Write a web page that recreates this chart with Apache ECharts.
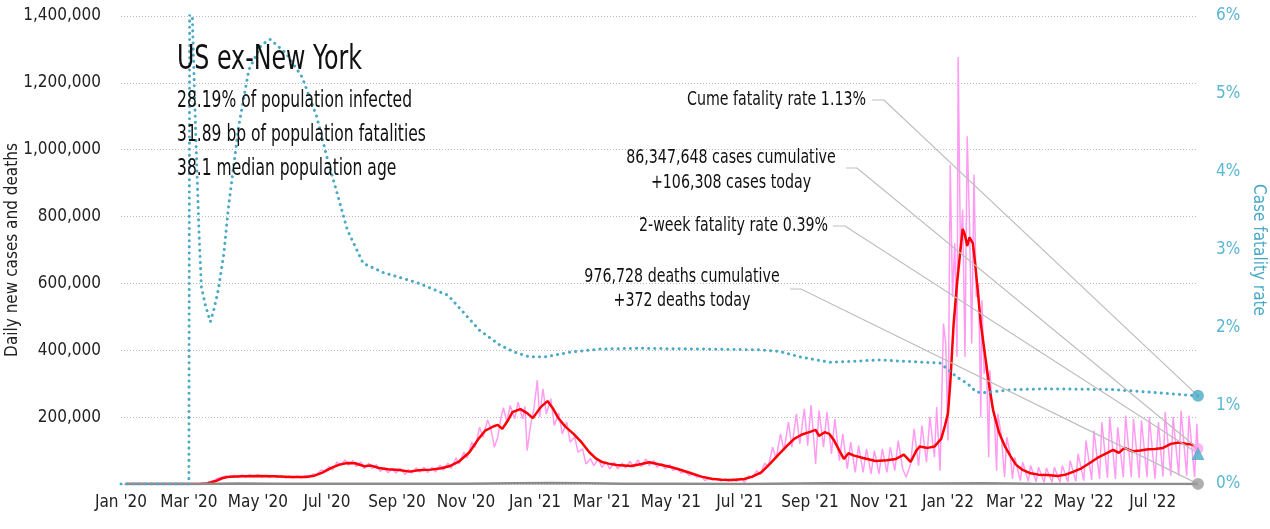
<!DOCTYPE html>
<html>
<head>
<meta charset="utf-8">
<script src="https://cdn.jsdelivr.net/npm/echarts@6/dist/echarts.min.js"></script>
<style>
html, body { margin: 0; padding: 0; background: #fff; }
#chart { width: 1270px; height: 529px; }
</style>
</head>
<body>
<div id="chart"></div>
<script>
const FONT = '"DejaVu Sans Condensed", "Liberation Sans Narrow", Roboto, sans-serif';

// x axis ticks
const tickDates = ['2020-01-01', '2020-03-01', '2020-05-01', '2020-07-01', '2020-09-01', '2020-11-01',
  '2021-01-01', '2021-03-01', '2021-05-01', '2021-07-01', '2021-09-01', '2021-11-01',
  '2022-01-01', '2022-03-01', '2022-05-01', '2022-07-01']
const tickLabels = ["Jan '20", "Mar '20", "May '20", "Jul '20", "Sep '20", "Nov '20",
  "Jan '21", "Mar '21", "May '21", "Jul '21", "Sep '21", "Nov '21",
  "Jan '22", "Mar '22", "May '22", "Jul '22"]

// daily new cases (pink)
const dailyCases = [['2020-01-05',0],['2020-03-01',0],['2020-03-10',300],['2020-03-17',3000],['2020-03-20',7000],['2020-03-24',12000],['2020-03-27',18000],['2020-03-31',20000],['2020-04-03',25000],['2020-04-06',19000],['2020-04-10',26000],['2020-04-13',20000],['2020-04-17',27000],['2020-04-20',21000],['2020-04-24',28000],['2020-04-27',21000],['2020-05-01',28000],['2020-05-04',21000],['2020-05-08',26000],['2020-05-11',19000],['2020-05-15',25000],['2020-05-18',19000],['2020-05-22',24000],['2020-05-26',18000],['2020-05-29',24000],['2020-06-01',18000],['2020-06-05',24000],['2020-06-08',18000],['2020-06-12',25000],['2020-06-15',20000],['2020-06-19',30000],['2020-06-22',28000],['2020-06-26',42000],['2020-06-29',38000],['2020-07-03',52000],['2020-07-06',42000],['2020-07-10',66000],['2020-07-13',55000],['2020-07-17',72000],['2020-07-20',56000],['2020-07-24',70000],['2020-07-27',52000],['2020-07-31',66000],['2020-08-03',46000],['2020-08-07',62000],['2020-08-10',46000],['2020-08-14',58000],['2020-08-17',38000],['2020-08-21',48000],['2020-08-24',34000],['2020-08-28',46000],['2020-08-31',33000],['2020-09-04',46000],['2020-09-08',28000],['2020-09-11',44000],['2020-09-14',32000],['2020-09-18',48000],['2020-09-21',36000],['2020-09-25',50000],['2020-09-28',34000],['2020-10-02',50000],['2020-10-05',36000],['2020-10-09',56000],['2020-10-12',42000],['2020-10-16',62000],['2020-10-19',47000],['2020-10-23',78000],['2020-10-26',60000],['2020-10-30',95000],['2020-11-02',78000],['2020-11-06',125000],['2020-11-09',110000],['2020-11-13',170000],['2020-11-16',140000],['2020-11-20',192000],['2020-11-23',165000],['2020-11-26',110000],['2020-11-29',140000],['2020-12-02',200000],['2020-12-04',228000],['2020-12-07',185000],['2020-12-10',235000],['2020-12-14',195000],['2020-12-17',245000],['2020-12-21',195000],['2020-12-23',232000],['2020-12-25',100000],['2020-12-28',175000],['2020-12-31',225000],['2021-01-03',311000],['2021-01-05',200000],['2021-01-08',285000],['2021-01-11',210000],['2021-01-15',255000],['2021-01-18',175000],['2021-01-22',212000],['2021-01-25',150000],['2021-01-29',185000],['2021-02-01',125000],['2021-02-05',140000],['2021-02-08',95000],['2021-02-12',105000],['2021-02-15',60000],['2021-02-19',76000],['2021-02-22',55000],['2021-02-26',75000],['2021-03-01',50000],['2021-03-05',66000],['2021-03-08',45000],['2021-03-12',65000],['2021-03-15',45000],['2021-03-19',62000],['2021-03-22',48000],['2021-03-26',68000],['2021-03-29',50000],['2021-04-02',72000],['2021-04-05',52000],['2021-04-09',75000],['2021-04-12',55000],['2021-04-16',70000],['2021-04-19',50000],['2021-04-23',62000],['2021-04-26',45000],['2021-04-30',58000],['2021-05-03',40000],['2021-05-07',48000],['2021-05-10',33000],['2021-05-14',38000],['2021-05-17',25000],['2021-05-21',30000],['2021-05-24',20000],['2021-05-28',24000],['2021-05-31',10000],['2021-06-04',18000],['2021-06-07',12000],['2021-06-11',16000],['2021-06-14',9000],['2021-06-18',15000],['2021-06-21',8000],['2021-06-25',15000],['2021-06-28',8000],['2021-07-02',18000],['2021-07-05',5000],['2021-07-09',25000],['2021-07-12',18000],['2021-07-16',40000],['2021-07-19',28000],['2021-07-23',62000],['2021-07-26',50000],['2021-07-30',110000],['2021-08-02',75000],['2021-08-06',150000],['2021-08-09',100000],['2021-08-13',185000],['2021-08-16',110000],['2021-08-20',210000],['2021-08-23',120000],['2021-08-27',225000],['2021-08-30',115000],['2021-09-02',236000],['2021-09-06',60000],['2021-09-09',220000],['2021-09-13',110000],['2021-09-16',215000],['2021-09-20',90000],['2021-09-23',195000],['2021-09-27',70000],['2021-09-30',150000],['2021-10-04',45000],['2021-10-07',125000],['2021-10-11',35000],['2021-10-14',115000],['2021-10-18',35000],['2021-10-21',105000],['2021-10-25',30000],['2021-10-28',100000],['2021-11-01',30000],['2021-11-04',105000],['2021-11-08',35000],['2021-11-11',110000],['2021-11-15',40000],['2021-11-18',130000],['2021-11-22',45000],['2021-11-25',20000],['2021-11-29',60000],['2021-12-02',165000],['2021-12-06',55000],['2021-12-09',175000],['2021-12-13',65000],['2021-12-16',200000],['2021-12-20',80000],['2021-12-22',230000],['2021-12-25',40000],['2021-12-28',480000],['2021-12-30',420000],['2022-01-01',130000],['2022-01-03',955000],['2022-01-05',560000],['2022-01-07',720000],['2022-01-09',380000],['2022-01-10',1277000],['2022-01-12',700000],['2022-01-14',820000],['2022-01-16',380000],['2022-01-18',1040000],['2022-01-20',780000],['2022-01-22',420000],['2022-01-24',925000],['2022-01-26',560000],['2022-01-28',600000],['2022-01-30',200000],['2022-01-31',550000],['2022-02-02',330000],['2022-02-04',360000],['2022-02-06',80000],['2022-02-07',340000],['2022-02-09',230000],['2022-02-11',200000],['2022-02-13',40000],['2022-02-14',210000],['2022-02-17',150000],['2022-02-20',20000],['2022-02-22',140000],['2022-02-25',90000],['2022-02-27',15000],['2022-03-01',80000],['2022-03-06',10000],['2022-03-08',65000],['2022-03-13',8000],['2022-03-15',55000],['2022-03-20',6000],['2022-03-22',50000],['2022-03-27',5000],['2022-03-29',48000],['2022-04-03',5000],['2022-04-05',50000],['2022-04-10',5000],['2022-04-12',55000],['2022-04-17',6000],['2022-04-19',70000],['2022-04-24',8000],['2022-04-26',90000],['2022-05-01',10000],['2022-05-03',130000],['2022-05-08',12000],['2022-05-10',160000],['2022-05-15',15000],['2022-05-17',185000],['2022-05-22',18000],['2022-05-24',200000],['2022-05-29',15000],['2022-05-31',170000],['2022-06-05',20000],['2022-06-07',205000],['2022-06-12',20000],['2022-06-14',195000],['2022-06-19',18000],['2022-06-21',190000],['2022-06-26',20000],['2022-06-28',200000],['2022-07-03',15000],['2022-07-06',185000],['2022-07-10',22000],['2022-07-12',215000],['2022-07-17',25000],['2022-07-19',200000],['2022-07-24',25000],['2022-07-26',220000],['2022-07-31',25000],['2022-08-02',205000],['2022-08-07',20000],['2022-08-09',180000],['2022-08-10',106308]]

// 7-day average of new cases (red)
const avgCases = [['2020-01-05',0],['2020-03-10',0],['2020-03-17',1500],['2020-03-24',8000],['2020-03-31',18000],['2020-04-06',22000],['2020-04-18',23000],['2020-05-01',24000],['2020-05-15',23000],['2020-05-30',21000],['2020-06-12',21000],['2020-06-20',25000],['2020-06-27',34000],['2020-07-05',48000],['2020-07-12',58000],['2020-07-19',63000],['2020-07-26',62000],['2020-08-03',53000],['2020-08-09',55000],['2020-08-16',48000],['2020-08-24',44000],['2020-09-03',42000],['2020-09-12',37000],['2020-09-20',41000],['2020-10-01',43000],['2020-10-10',47000],['2020-10-18',54000],['2020-10-26',68000],['2020-11-04',95000],['2020-11-12',135000],['2020-11-18',160000],['2020-11-25',172000],['2020-11-29',177000],['2020-12-03',165000],['2020-12-08',190000],['2020-12-12',215000],['2020-12-19',224000],['2020-12-25',212000],['2020-12-30',197000],['2021-01-06',230000],['2021-01-12',248000],['2021-01-17',225000],['2021-01-22',195000],['2021-01-28',171000],['2021-02-04',150000],['2021-02-11',125000],['2021-02-18',95000],['2021-02-24',76000],['2021-03-01',66000],['2021-03-07',61000],['2021-03-14',57000],['2021-03-27',54000],['2021-04-05',60000],['2021-04-12',65000],['2021-04-20',59000],['2021-05-01',51000],['2021-05-10',42000],['2021-05-19',32000],['2021-05-28',22000],['2021-06-06',16000],['2021-06-15',13000],['2021-06-24',12000],['2021-07-05',15000],['2021-07-12',22000],['2021-07-20',35000],['2021-07-28',62000],['2021-08-04',87000],['2021-08-11',112000],['2021-08-18',135000],['2021-08-25',148000],['2021-09-01',156000],['2021-09-06',162000],['2021-09-09',144000],['2021-09-14',155000],['2021-09-18',150000],['2021-09-22',132000],['2021-09-27',100000],['2021-10-01',75000],['2021-10-05',92000],['2021-10-10',85000],['2021-10-18',78000],['2021-10-29',69000],['2021-11-08',71000],['2021-11-16',75000],['2021-11-23',88000],['2021-11-29',66000],['2021-12-04',100000],['2021-12-07',112000],['2021-12-14',108000],['2021-12-20',112000],['2021-12-26',135000],['2021-12-29',170000],['2022-01-01',212000],['2022-01-03',300000],['2022-01-06',480000],['2022-01-09',600000],['2022-01-12',700000],['2022-01-14',763000],['2022-01-16',745000],['2022-01-18',712000],['2022-01-20',738000],['2022-01-23',720000],['2022-01-25',660000],['2022-01-27',590000],['2022-01-30',480000],['2022-02-03',380000],['2022-02-07',280000],['2022-02-10',220000],['2022-02-15',155000],['2022-02-20',115000],['2022-02-25',85000],['2022-03-02',58000],['2022-03-08',42000],['2022-03-15',32000],['2022-03-22',28000],['2022-03-30',27000],['2022-04-08',24000],['2022-04-15',28000],['2022-04-22',37000],['2022-04-29',47000],['2022-05-06',62000],['2022-05-13',78000],['2022-05-20',90000],['2022-05-27',102000],['2022-06-01',93000],['2022-06-06',108000],['2022-06-13',98000],['2022-06-20',100000],['2022-06-27',104000],['2022-07-03',105000],['2022-07-10',108000],['2022-07-17',120000],['2022-07-24',124000],['2022-07-31',120000],['2022-08-05',118000],['2022-08-10',105000]]

// daily deaths (grey)
const dailyDeaths = [['2020-01-05',0],['2020-03-10',0],['2020-03-25',600],['2020-04-15',1500],['2020-05-15',1100],['2020-06-20',500],['2020-08-01',1100],['2020-09-15',700],['2020-11-01',700],['2020-12-15',2400],['2021-01-15',3200],['2021-02-15',2000],['2021-03-20',900],['2021-05-01',600],['2021-07-05',200],['2021-09-15',1900],['2021-11-01',1200],['2021-12-20',1200],['2022-02-01',2500],['2022-03-15',1000],['2022-04-20',350],['2022-06-15',300],['2022-08-10',372]]

// case fatality rate, % (teal, right axis)
const fatalityRate = [['2020-01-01',0],['2020-03-01',0],['2020-03-02',9],['2020-03-04',6.0],['2020-03-07',4.5],['2020-03-10',3.2],['2020-03-12',2.53],['2020-03-16',2.27],['2020-03-20',2.08],['2020-03-23',2.23],['2020-03-27',2.49],['2020-04-01',2.96],['2020-04-05',3.55],['2020-04-14',4.58],['2020-04-23',5.31],['2020-05-04',5.63],['2020-05-12',5.70],['2020-05-26',5.52],['2020-06-09',5.22],['2020-06-22',4.71],['2020-07-01',4.19],['2020-07-10',3.73],['2020-07-19',3.26],['2020-08-02',2.83],['2020-08-20',2.71],['2020-09-19',2.58],['2020-10-16',2.42],['2020-11-13',1.97],['2020-12-01',1.78],['2020-12-14',1.69],['2020-12-27',1.63],['2021-01-10',1.63],['2021-02-01',1.69],['2021-02-27',1.73],['2021-04-04',1.74],['2021-05-27',1.73],['2021-07-19',1.72],['2021-08-05',1.70],['2021-08-23',1.63],['2021-09-19',1.56],['2021-11-02',1.59],['2021-12-25',1.55],['2022-01-09',1.37],['2022-01-18',1.29],['2022-01-26',1.18],['2022-02-01',1.17],['2022-02-27',1.21],['2022-03-29',1.22],['2022-05-27',1.21],['2022-06-26',1.18],['2022-08-10',1.13]]

// latest values
const lastDate = '2022-08-10'
const casesToday = 106308
const deathsToday = 372
const casesCumulative = '86,347,648'
const deathsCumulative = '976,728'
const cumeRate = 1.13
const twoWeekRate = 0.39

const titleText = 'US ex-New York'
const statLines = ['28.19% of population infected', '31.89 bp of population fatalities', '38.1 median population age']

const TEAL = '#4aaac6'
const ts = s => { const p = s.split('-').map(Number); return new Date(p[0], p[1] - 1, p[2]).getTime() }
const toPts = arr => arr.map(d => [ts(d[0]), d[1]])

const labelMap = {}
tickDates.forEach((d, i) => { labelMap[ts(d)] = tickLabels[i] })

// the reference face is a narrow one, so squeeze the free texts to its width
const measureCtx = document.createElement('canvas').getContext('2d')
const squeeze = (text, size, width) => {
  measureCtx.font = size + 'px ' + FONT
  return width / measureCtx.measureText(text).width
}

const chart = echarts.init(document.getElementById('chart'))

chart.setOption({
  animation: false,
  grid: { left: 121, right: 72, top: 16, bottom: 45, outerBoundsMode: 'none' },
  xAxis: {
    // dates as timestamps on a plain value axis, labelled at the month starts
    type: 'value',
    min: ts('2020-01-01'),
    max: ts(lastDate),
    axisLine: { show: false },
    axisTick: { show: false },
    splitLine: { show: false },
    axisLabel: {
      customValues: tickDates.map(ts),
      formatter: v => labelMap[v] || '',
      fontFamily: FONT, fontSize: 17, color: '#222', margin: 10
    }
  },
  yAxis: [
    {
      type: 'value', min: 0, max: 1400000, interval: 200000,
      name: 'Daily new cases and deaths', nameLocation: 'middle', nameRotate: 90, nameGap: 100,
      nameMoveOverlap: false,
      nameTextStyle: { fontFamily: FONT, fontSize: 17, color: '#222' },
      axisLine: { show: false }, axisTick: { show: false },
      axisLabel: {
        showMinLabel: false, margin: 20,
        formatter: v => v.toLocaleString('en-US'),
        fontFamily: FONT, fontSize: 17, color: '#222'
      },
      splitLine: { lineStyle: { color: '#bbb', width: 1, type: [1, 2] } }
    },
    {
      type: 'value', position: 'right', min: 0, max: 6, interval: 1,
      name: 'Case fatality rate', nameLocation: 'middle', nameRotate: -90, nameGap: 52,
      nameMoveOverlap: false,
      nameTextStyle: { fontFamily: FONT, fontSize: 17, color: TEAL },
      axisLine: { show: false }, axisTick: { show: false },
      axisLabel: { formatter: '{value}%', margin: 18, fontFamily: FONT, fontSize: 17, color: '#5ab6d2' },
      splitLine: { show: false }
    }
  ],
  series: [
    {
      name: 'Daily cases', type: 'line', data: toPts(dailyCases), showSymbol: false, z: 2,
      lineStyle: { color: '#ff9cf2', width: 1.5 }
    },
    {
      name: '7-day average', type: 'line', data: toPts(avgCases), showSymbol: false, z: 3,
      lineStyle: { color: '#ff0000', width: 2.5 }
    },
    {
      name: 'Daily deaths', type: 'line', data: toPts(dailyDeaths), showSymbol: false, z: 3,
      lineStyle: { color: '#8c8c8c', width: 2.5 }
    },
    {
      name: 'Case fatality rate', type: 'line', yAxisIndex: 1, data: toPts(fatalityRate), showSymbol: false, z: 4,
      lineStyle: { color: TEAL, width: 3, type: [0.1, 6], cap: 'round' }
    },
    {
      type: 'scatter', z: 6, symbol: 'circle', symbolSize: 11,
      itemStyle: { color: '#ffa6f4' }, data: [[ts(lastDate), casesToday]]
    },
    {
      type: 'scatter', z: 6, symbol: 'circle', symbolSize: 12,
      itemStyle: { color: '#9a9a9a' }, data: [[ts(lastDate), deathsToday]]
    },
    {
      type: 'scatter', yAxisIndex: 1, z: 7, symbol: 'circle', symbolSize: 12,
      itemStyle: { color: TEAL }, data: [[ts(lastDate), cumeRate]]
    },
    {
      type: 'scatter', yAxisIndex: 1, z: 7, symbol: 'triangle', symbolSize: 13,
      itemStyle: { color: TEAL }, data: [[ts(lastDate), twoWeekRate]]
    }
  ]
})

// leader lines: from the note to the latest point of each series
const px = (axis, v) => chart.convertToPixel({ xAxisIndex: 0, yAxisIndex: axis }, [ts(lastDate), v])
const leader = (start, elbow, end) => ({
  type: 'polyline', z: 5, silent: true,
  shape: { points: [start, elbow, end] },
  style: { stroke: '#bdbdbd', lineWidth: 1.2, fill: null }
})
const txt = (text, x, y, size, sx, align) => ({
  type: 'text', x: x, y: y, z: 8, silent: true, scaleX: sx,
  style: { text: text, font: size + 'px ' + FONT, fill: '#111', align: align || 'left', verticalAlign: 'middle' }
})

const titleScale = squeeze(titleText, 34, 185)
const statScale = squeeze(statLines[0], 23, 235)
const noteText = 'Cume fatality rate ' + cumeRate + '%'
const noteScale = squeeze(noteText, 20, 179)

chart.setOption({
  graphic: [
    leader([872, 100], [884, 100], px(1, cumeRate)),
    leader([846, 168], [857, 168], px(0, casesToday)),
    leader([833, 226], [845, 226], px(1, twoWeekRate)),
    leader([790, 289], [801, 289], px(0, deathsToday)),
    txt(titleText, 177, 60, 34, titleScale),
    txt(statLines[0], 177, 101, 23, statScale),
    txt(statLines[1], 177, 135, 23, statScale),
    txt(statLines[2], 177, 169, 23, statScale),
    txt(noteText, 866, 100, 20, noteScale, 'right'),
    txt(casesCumulative + ' cases cumulative', 731, 158, 20, noteScale, 'center'),
    txt('+' + casesToday.toLocaleString('en-US') + ' cases today', 731, 183, 20, noteScale, 'center'),
    txt('2-week fatality rate ' + twoWeekRate + '%', 828, 226, 20, noteScale, 'right'),
    txt(deathsCumulative + ' deaths cumulative', 682, 277, 20, noteScale, 'center'),
    txt('+' + deathsToday + ' deaths today', 682, 301, 20, noteScale, 'center')
  ]
})
</script>
</body>
</html>
